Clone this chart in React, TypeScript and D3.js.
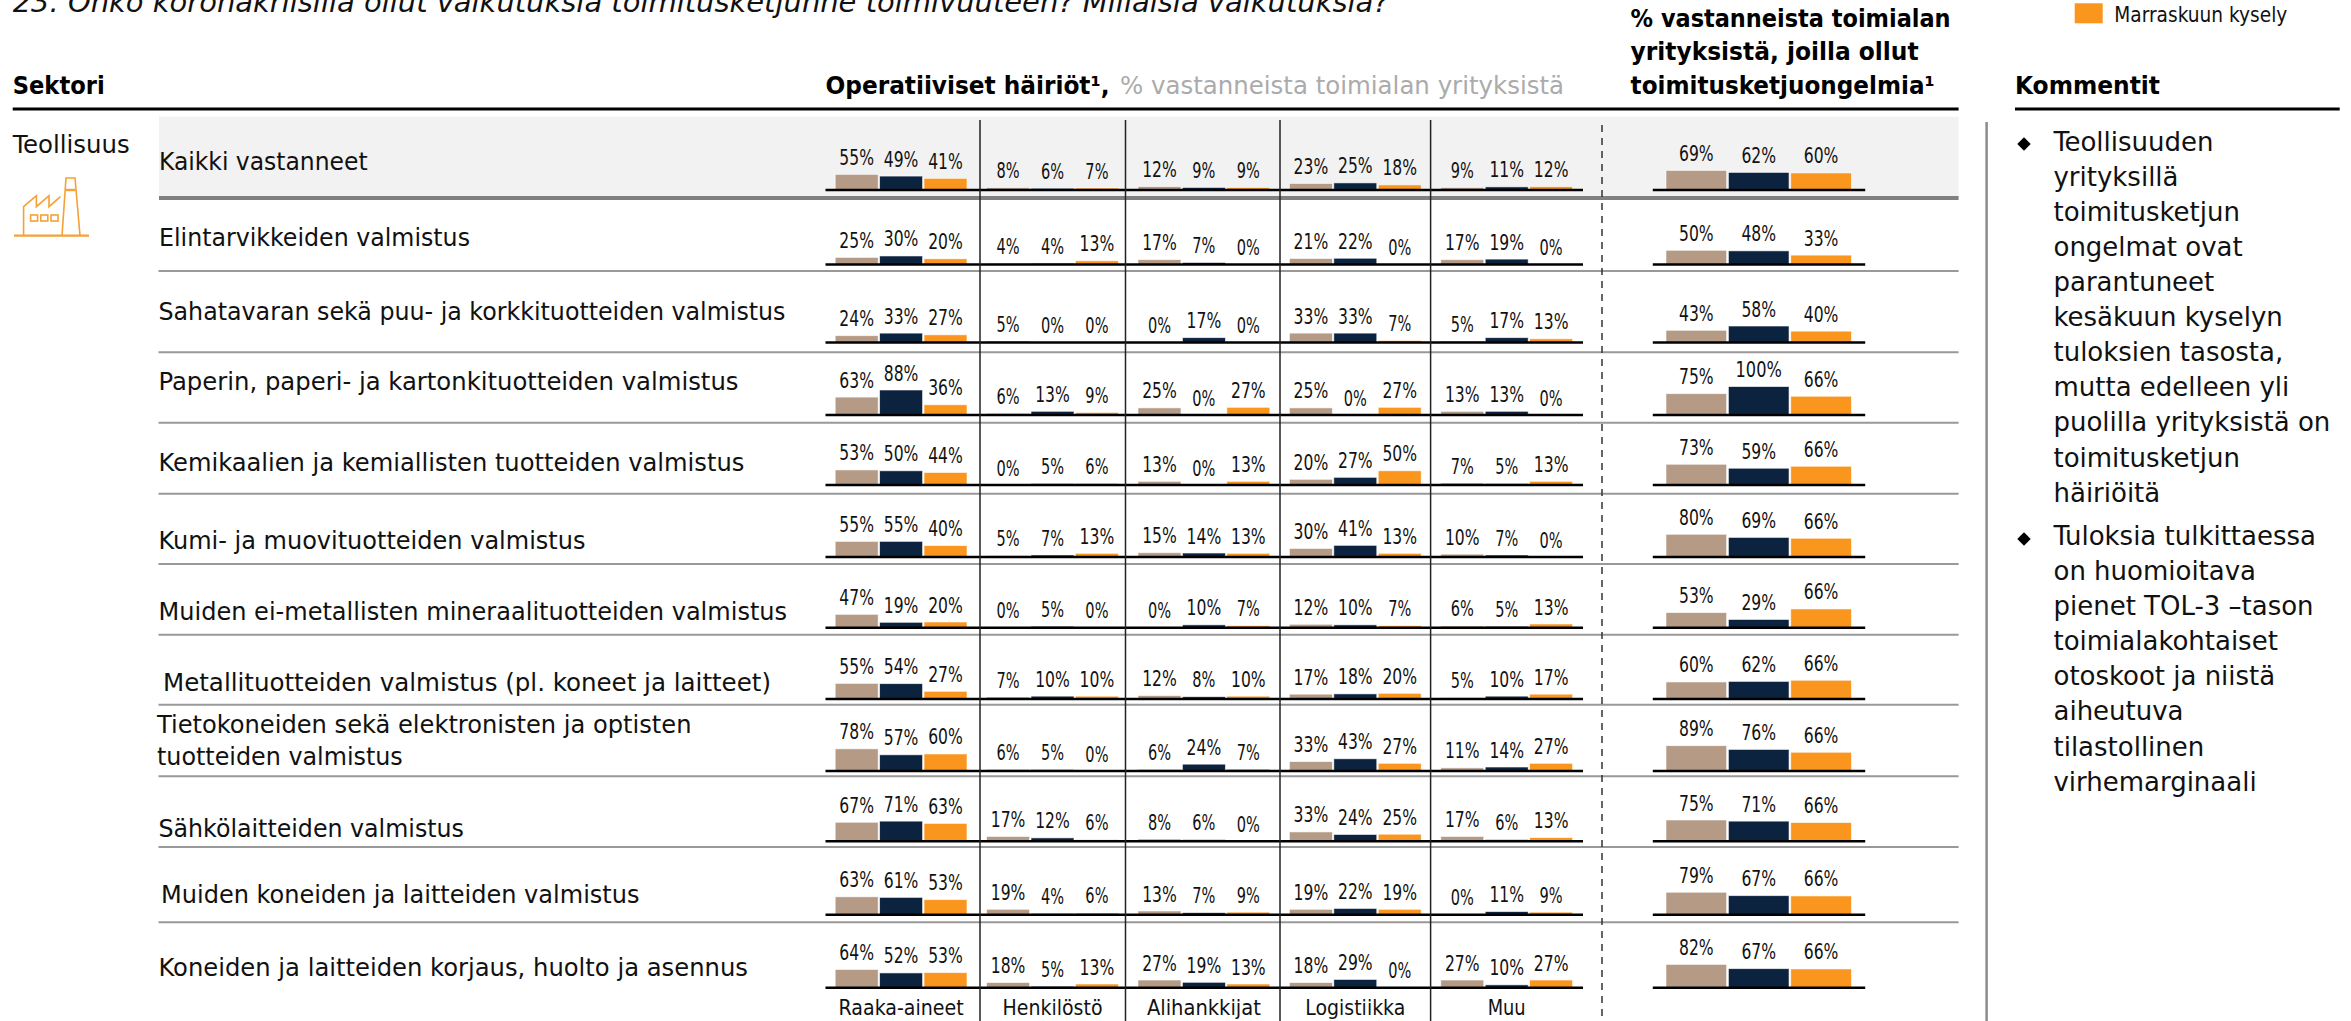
import React from "react";
import * as d3 from "d3";

const FONT = "'DejaVu Sans', sans-serif";

const sectorLabels = [
  ["Kaikki vastanneet"],
  ["Elintarvikkeiden valmistus"],
  ["Sahatavaran sekä puu- ja korkkituotteiden valmistus"],
  ["Paperin, paperi- ja kartonkituotteiden valmistus"],
  ["Kemikaalien ja kemiallisten tuotteiden valmistus"],
  ["Kumi- ja muovituotteiden valmistus"],
  ["Muiden ei-metallisten mineraalituotteiden valmistus"],
  ["Metallituotteiden valmistus (pl. koneet ja laitteet)"],
  ["Tietokoneiden sekä elektronisten ja optisten", "tuotteiden valmistus"],
  ["Sähkölaitteiden valmistus"],
  ["Muiden koneiden ja laitteiden valmistus"],
  ["Koneiden ja laitteiden korjaus, huolto ja asennus"],
];
const categories = ["Raaka-aineet", "Henkilöstö", "Alihankkijat", "Logistiikka", "Muu"];
const seriesNames = ["Tammikuun kysely", "Kesäkuun kysely", "Marraskuun kysely"];
const seriesColors = ["#B59A85", "#0C2340", "#FA961E"];

const raakaAineet = [[55,49,41],[25,30,20],[24,33,27],[63,88,36],[53,50,44],[55,55,40],[47,19,20],[55,54,27],[78,57,60],[67,71,63],[63,61,53],[64,52,53]];
const henkilosto = [[8,6,7],[4,4,13],[5,0,0],[6,13,9],[0,5,6],[5,7,13],[0,5,0],[7,10,10],[6,5,0],[17,12,6],[19,4,6],[18,5,13]];
const alihankkijat = [[12,9,9],[17,7,0],[0,17,0],[25,0,27],[13,0,13],[15,14,13],[0,10,7],[12,8,10],[6,24,7],[8,6,0],[13,7,9],[27,19,13]];
const logistiikka = [[23,25,18],[21,22,0],[33,33,7],[25,0,27],[20,27,50],[30,41,13],[12,10,7],[17,18,20],[33,43,27],[33,24,25],[19,22,19],[18,29,0]];
const muu = [[9,11,12],[17,19,0],[5,17,13],[13,13,0],[7,5,13],[10,7,0],[6,5,13],[5,10,17],[11,14,27],[17,6,13],[0,11,9],[27,10,27]];
const toimitusketju = [[69,62,60],[50,48,33],[43,58,40],[75,100,66],[73,59,66],[80,69,66],[53,29,66],[60,62,66],[89,76,66],[75,71,66],[79,67,66],[82,67,66]];
const panels = [raakaAineet, henkilosto, alihankkijat, logistiikka, muu];

const comments = [
  ["Teollisuuden", "yrityksillä", "toimitusketjun", "ongelmat ovat", "parantuneet", "kesäkuun kyselyn", "tuloksien tasosta,", "mutta edelleen yli", "puolilla yrityksistä on", "toimitusketjun", "häiriöitä"],
  ["Tuloksia tulkittaessa", "on huomioitava", "pienet TOL-3 –tason", "toimialakohtaiset", "otoskoot ja niistä", "aiheutuva", "tilastollinen", "virhemarginaali"],
];

// layout of the page (not data)
const rowBase = [190, 264.5, 342.5, 415, 485, 557, 627.7, 699, 771, 841.3, 914.7, 987.7];
const rowSep = [271, 352.3, 422.7, 493.7, 564, 634.7, 704.7, 776.3, 847, 922.3];
const labelBase = [[170],[246],[320],[390],[470.7],[548.7],[620],[690.7],[733.3,765],[836.7],[902.7],[976]];
const labelX = [159,159,158.5,158.5,158.5,158.5,158.5,163,157,158.5,161,158.5];
const labelW = [[208.6],[311],[627],[580],[585.8],[427],[628.6],[608],[534.5,245.8],[305.4],[478.5],[589.4]];
const catW = [125, 100, 114, 100, 38];
const ORANGE = "#FA961E";

const pxPerPct = d3.scaleLinear().domain([0, 100]).range([0, 28.4]);
const panelX = d3.scaleBand<string>().domain(categories).range([835.2, 835.2 + 151.4 * 5]);
const innerX = d3.scaleBand<string>().domain(seriesNames).range([0, 131.8]).paddingInner(0.033);
const rightX = d3.scaleBand<string>().domain(seriesNames).range([1666, 1851.4]).paddingInner(0.028);

function T({ x, y, w, size = 25, weight = 400, fill = "#111", anchor = "start", italic = false, children }: any) {
  return (
    <text x={x} y={y} fontSize={size} fontWeight={weight} fill={fill} textAnchor={anchor}
      fontStyle={italic ? "italic" : "normal"} fontFamily={FONT} style={{ fontStretch: "condensed" }}
      {...(w ? { textLength: w, lengthAdjust: "spacingAndGlyphs" } : {})}>{children}</text>
  );
}

function valW(v: number) {
  return (String(v).length + 1) * 11.55;
}

function Bars({ vals, base, x0, x }: any) {
  return (
    <g>
      {seriesNames.map((s, i) => {
        const h = pxPerPct(vals[i]);
        const bx = x0 + x(s)!;
        return (
          <g key={s}>
            {vals[i] > 0 && <rect x={bx} y={base - h} width={x.bandwidth()} height={h} fill={seriesColors[i]} stroke="#fff" strokeOpacity={0.7} strokeWidth={0.8} />}
            <T x={bx + x.bandwidth() / 2} y={base - h - 9.5} w={valW(vals[i])} size={21} anchor="middle">{vals[i]}%</T>
          </g>
        );
      })}
    </g>
  );
}

function Factory() {
  const line = d3.line();
  const o = { fill: "none", stroke: "#F7A035", strokeWidth: 1.6 };
  return (
    <g>
      <path {...o} d={line([[14, 235.7], [89, 235.7]])!} strokeWidth={2.2} />
      <path {...o} d={line([[23.6, 235.7], [23.6, 206.7], [36.4, 195.7], [36.4, 206.7], [49, 195.7], [49, 206.7], [60.5, 196.7]])!} />
      <path {...o} d={line([[62, 235.7], [66, 178], [75, 178], [80, 235.7]])!} />
      <path {...o} d={line([[66, 190], [75.5, 190]])!} strokeWidth={2.4} />
      {[30.6, 40.8, 51].map((x) => <rect key={x} {...o} x={x} y={215} width={7} height={6} />)}
    </g>
  );
}

export default function App() {
  const diamond = d3.symbol().type(d3.symbolSquare).size(90);
  return (
    <svg width={2351} height={1021} viewBox="0 0 2351 1021" style={{ position: "absolute", left: 0, top: 0, display: "block", background: "#fff" }}>
      <T x={12.7} y={12} w={1376} size={29} italic>23. Onko koronakriisillä ollut vaikutuksia toimitusketjunne toimivuuteen? Millaisia vaikutuksia?</T>

      <rect x={2074.7} y={3.3} width={28} height={20} fill={ORANGE} />
      <T x={2114.3} y={22} w={173} size={20.5}>{seriesNames[2]}</T>

      <T x={12.7} y={94} w={92} size={25.5} weight={700} fill="#000">Sektori</T>
      <T x={825.5} y={94} w={284} size={25.5} weight={700} fill="#000">Operatiiviset häiriöt¹,</T>
      <T x={1120} y={94} w={444} size={25.5} fill="#ABABAB">% vastanneista toimialan yrityksistä</T>
      <T x={1630.6} y={26.7} w={320} size={25.5} weight={700} fill="#000">% vastanneista toimialan</T>
      <T x={1630.6} y={60} w={288} size={25.5} weight={700} fill="#000">yrityksistä, joilla ollut</T>
      <T x={1630.6} y={94} w={304} size={25.5} weight={700} fill="#000">toimitusketjuongelmia¹</T>
      <T x={2015} y={94} w={145} size={25.5} weight={700} fill="#000">Kommentit</T>
      <line x1={12.7} x2={1958.6} y1={109} y2={109} stroke="#000" strokeWidth={3} />
      <line x1={2015} x2={2339.7} y1={109} y2={109} stroke="#000" strokeWidth={3} />

      <rect x={159} y={116.7} width={1799.6} height={80} fill="#F2F2F2" />
      <line x1={159} x2={1958.6} y1={198} y2={198} stroke="#808080" strokeWidth={4} />
      {rowSep.map((y) => <line key={y} x1={158.5} x2={1958.6} y1={y} y2={y} stroke="#999" strokeWidth={2} />)}

      <T x={12.7} y={153} w={117} size={25}>Teollisuus</T>
      <Factory />

      {sectorLabels.map((lines, r) => lines.map((l, j) => (
        <T key={l} x={labelX[r]} y={labelBase[r][j]} w={labelW[r][j]} size={25}>{l}</T>
      )))}

      {rowBase.map((base, r) => (
        <g key={r}>
          {categories.map((c, p) => (
            <Bars key={c} vals={panels[p][r]} base={base} x0={panelX(c)!} x={innerX} />
          ))}
          <Bars vals={toimitusketju[r]} base={base} x0={0} x={rightX} />
          <line x1={825.5} x2={1583} y1={base} y2={base} stroke="#000" strokeWidth={2.6} />
          <line x1={1652.8} x2={1865.2} y1={base} y2={base} stroke="#000" strokeWidth={2.6} />
        </g>
      ))}

      {[980, 1125.5, 1280, 1430.6].map((x) => <line key={x} x1={x} x2={x} y1={120} y2={1021} stroke="#222" strokeWidth={1.5} />)}
      <line x1={1602} x2={1602} y1={125} y2={1016} stroke="#333" strokeWidth={1.5} strokeDasharray="7 6" />
      <line x1={1986.6} x2={1986.6} y1={122} y2={1021} stroke="#8C8C8C" strokeWidth={2.5} />

      {categories.map((c, i) => (
        <T key={c} x={panelX(c)! + 65.9} y={1015} w={catW[i]} size={22} anchor="middle">{c}</T>
      ))}

      {comments.map((lines, b) => (
        <g key={b}>
          <path d={diamond()!} transform={`translate(2024,${b === 0 ? 144 : 539}) rotate(45)`} fill="#000" />
          <g transform="translate(2053.5,0) scale(1.07,1)">
            {lines.map((l, i) => (
              <T key={l + i} x={0} y={(b === 0 ? 150.7 : 545) + i * 35.1} size={27}>{l}</T>
            ))}
          </g>
        </g>
      ))}
    </svg>
  );
}
